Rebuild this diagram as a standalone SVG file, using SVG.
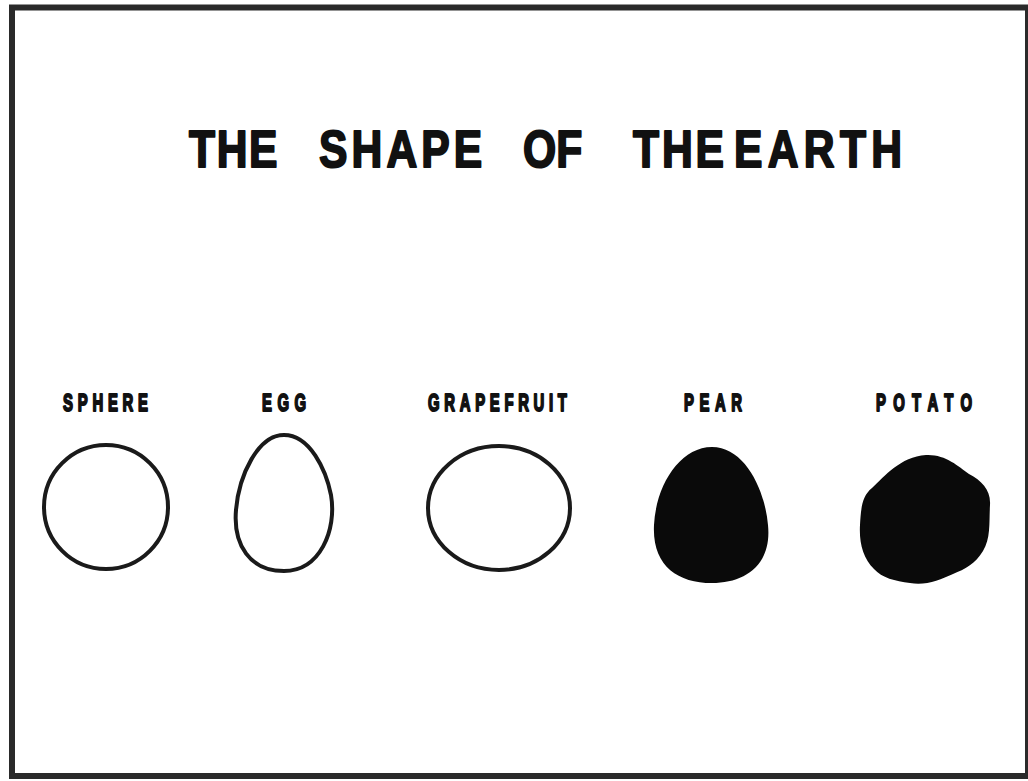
<svg xmlns="http://www.w3.org/2000/svg" width="1028" height="781" viewBox="0 0 1028 781">
<style>
.title{font-family:"Liberation Sans",Arial,sans-serif;font-weight:bold;font-size:52px;fill:#111;stroke:#111;stroke-width:2;stroke-linejoin:round}
.label{font-family:"Liberation Sans",Arial,sans-serif;font-weight:bold;font-size:24px;fill:#111;stroke:#111;stroke-width:2;stroke-linejoin:round;text-anchor:middle}
.outline{fill:none;stroke:#1a1a1a;stroke-width:4}
.solid{fill:#0a0a0a;stroke:none}
</style>
<rect x="0" y="0" width="1028" height="781" fill="#ffffff"/>
<rect x="12" y="7.5" width="1016" height="768.5" fill="none" stroke="#2a2a2a" stroke-width="6"/>
<g id="title" transform="scale(0.82 1)">
<text class="title" y="167"><tspan x="230.5" letter-spacing="2">THE </tspan><tspan x="389" letter-spacing="5">SHAPE </tspan><tspan x="637.8" letter-spacing="0">OF </tspan><tspan x="772" letter-spacing="3.5">THE </tspan><tspan x="895" letter-spacing="6.5">EARTH</tspan></text>
</g>
<g id="sphere">
<text class="label" transform="translate(105.5 411) scale(0.62 1)" x="0" y="0" textLength="137" lengthAdjust="spacing">SPHERE</text>
<circle class="outline" cx="106" cy="507" r="62"/>
</g>
<g id="egg">
<text class="label" transform="translate(284 411) scale(0.62 1)" x="0" y="0" textLength="71" lengthAdjust="spacing">EGG</text>
<path class="outline" d="M 284 435 C 310 435 326 470 331 495 C 337 530 320 571 284 571 C 250 571 233 545 236 510 C 239 475 258 435 284 435 Z"/>
</g>
<g id="grapefruit">
<text class="label" transform="translate(497.5 411) scale(0.62 1)" x="0" y="0" textLength="224" lengthAdjust="spacing">GRAPEFRUIT</text>
<ellipse class="outline" cx="499" cy="508" rx="71" ry="62"/>
</g>
<g id="pear">
<text class="label" transform="translate(713 411) scale(0.62 1)" x="0" y="0" textLength="93.5" lengthAdjust="spacing">PEAR</text>
<path class="solid" d="M 712 447 C 745 447 765 490 768 525 C 772 565 745 583 712 583 C 677 583 652 565 654 525 C 656 485 680 447 712 447 Z"/>
</g>
<g id="potato">
<text class="label" transform="translate(924 411) scale(0.62 1)" x="0" y="0" textLength="155" lengthAdjust="spacing">POTATO</text>
<path class="solid" d="M 926 455 C 945 454 958 466 969 474 C 982 481 991 490 990 505 C 989 522 991 538 983 551 C 975 564 965 569 953 574 C 940 580 925 586 910 583 C 895 581 882 578 874 569 C 863 558 859 543 860 525 C 861 508 862 496 872 488 C 885 476 900 457 926 455 Z"/>
</g>
<g id="connectors"></g>
</svg>
